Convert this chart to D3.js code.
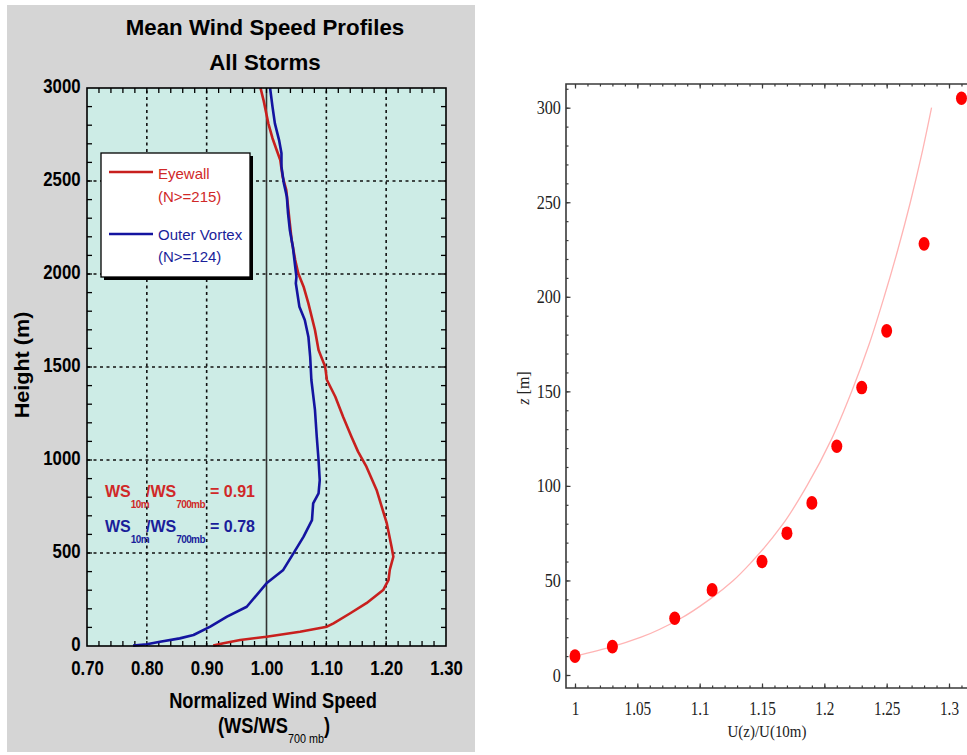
<!DOCTYPE html>
<html>
<head>
<meta charset="utf-8">
<script src="https://cdn.jsdelivr.net/npm/d3@7"></script>
<style>
  body { margin: 0; background: #fff; }
  svg { display: block; }
</style>
</head>
<body>
<div id="chart"></div>
<script>
// Size of the whole picture.
var width = 967;
var height = 755;

// ---- Left panel data: mean wind speed profiles (height in m, normalized speed) ----
var eyewallHeight = [3000, 2935, 2810, 2730, 2657, 2613, 2523, 2452, 2362, 2272, 2183, 2075, 2004, 1932,
  1842, 1699, 1591, 1502, 1430, 1340, 1233, 1125, 1045, 964, 839, 660, 534, 480, 409, 355, 301, 230,
  176, 122, 104, 77, 50, 32, 15, 2];
var eyewallSpeed = [0.990, 0.995, 1.003, 1.010, 1.018, 1.023, 1.027, 1.033, 1.036, 1.039, 1.042, 1.048,
  1.053, 1.062, 1.070, 1.081, 1.087, 1.098, 1.101, 1.115, 1.128, 1.142, 1.153, 1.167, 1.184, 1.201, 1.209,
  1.212, 1.206, 1.204, 1.195, 1.167, 1.140, 1.112, 1.101, 1.056, 1.000, 0.956, 0.928, 0.911];

var vortexHeight = [3000, 2900, 2810, 2720, 2649, 2577, 2488, 2416, 2326, 2237, 2147, 2039, 1985, 1950,
  1824, 1753, 1663, 1555, 1430, 1269, 1125, 1000, 892, 821, 767, 677, 588, 498, 409, 337, 211, 158,
  104, 59, 41, 23, 9, 2];
var vortexSpeed = [1.006, 1.010, 1.014, 1.021, 1.025, 1.025, 1.029, 1.034, 1.036, 1.039, 1.044, 1.048,
  1.050, 1.049, 1.055, 1.064, 1.070, 1.073, 1.075, 1.081, 1.084, 1.087, 1.089, 1.087, 1.078, 1.076, 1.062,
  1.045, 1.028, 1.000, 0.967, 0.934, 0.906, 0.878, 0.855, 0.822, 0.800, 0.777];

var leftXTicks = [0.70, 0.80, 0.90, 1.00, 1.10, 1.20, 1.30];
var leftYTicks = [0, 500, 1000, 1500, 2000, 2500, 3000];
var leftXGrid = [0.80, 0.90, 1.10, 1.20];
var leftYGrid = [500, 1000, 1500, 2000, 2500];

// ---- Right panel data: measured ratio U(z)/U(10m) and fitted profile ----
var pointRatio = [1.00, 1.03, 1.08, 1.11, 1.15, 1.17, 1.19, 1.21, 1.23, 1.25, 1.28, 1.31];
var pointHeight = [10, 15, 30, 45, 60, 75, 91, 121, 152, 182, 228, 305];

var fitHeight = [10, 15, 20, 30, 40, 50, 60, 80, 100, 125, 150, 175, 200, 225, 250, 275, 300];
var fitRatio = [1.000, 1.030, 1.053, 1.085, 1.108, 1.127, 1.142, 1.167, 1.186, 1.206, 1.222, 1.236,
  1.248, 1.259, 1.269, 1.278, 1.286];

var rightXTicks = [1, 1.05, 1.1, 1.15, 1.2, 1.25, 1.3];
var rightYTicks = [0, 50, 100, 150, 200, 250, 300];

var colors = {
  eyewall: "#c8201e",
  vortex: "#1414a0",
  eyewallText: "#d02828",
  vortexText: "#1a1e9a",
  plotBg: "#cdece6",
  panelBg: "#d5d5d5",
  fit: "#ffb4b4",
  dot: "#ff0000"
};

var svg = d3.select("#chart").append("svg")
    .attr("width", width)
    .attr("height", height);

var sans = "Liberation Sans, Arial, Helvetica, sans-serif";
var serif = "Liberation Serif, Times New Roman, Times, serif";

// Place a (possibly condensed) text at x,y.
function label(g, x, y, str, o) {
  o = o || {};
  return g.append("text")
      .attr("transform", "translate(" + x + "," + y + ")" + (o.rotate ? " rotate(" + o.rotate + ")" : "") +
            " scale(" + (o.sx || 1) + ",1)")
      .attr("text-anchor", o.anchor || "start")
      .attr("font-family", o.family || sans)
      .attr("font-size", o.size || 16)
      .attr("font-weight", o.weight || "normal")
      .attr("fill", o.color || "#000")
      .text(str);
}

//------- LEFT PANEL --------//
var left = svg.append("g");

left.append("rect")
    .attr("x", 7).attr("y", 5)
    .attr("width", 468).attr("height", 747)
    .attr("fill", colors.panelBg);

var xL = d3.scaleLinear().domain([0.7, 1.3]).range([87, 446]);
var yL = d3.scaleLinear().domain([0, 3000]).range([646, 88]);

left.append("rect")
    .attr("x", xL(0.7)).attr("y", yL(3000))
    .attr("width", xL(1.3) - xL(0.7)).attr("height", yL(0) - yL(3000))
    .attr("fill", colors.plotBg);

// dotted grid
left.selectAll(".vgrid").data(leftXGrid).enter().append("line")
    .attr("x1", xL).attr("x2", xL)
    .attr("y1", yL(0)).attr("y2", yL(3000))
    .attr("stroke", "#111").attr("stroke-width", 1.6)
    .attr("stroke-dasharray", "3,3.5");
left.selectAll(".hgrid").data(leftYGrid).enter().append("line")
    .attr("x1", xL(0.7)).attr("x2", xL(1.3))
    .attr("y1", yL).attr("y2", yL)
    .attr("stroke", "#111").attr("stroke-width", 1.6)
    .attr("stroke-dasharray", "3,3.5");

// solid reference line at 1.00
left.append("line")
    .attr("x1", xL(1)).attr("x2", xL(1))
    .attr("y1", yL(0)).attr("y2", yL(3000))
    .attr("stroke", "#333").attr("stroke-width", 1.6);

// minor ticks on all four sides
var minorX = d3.range(0.72, 1.29, 0.02);
var minorY = d3.range(100, 2950, 100);
left.selectAll(".tb").data(minorX).enter().append("line")
    .attr("x1", xL).attr("x2", xL)
    .attr("y1", yL(0)).attr("y2", yL(0) - 5)
    .attr("stroke", "#000").attr("stroke-width", 1.3);
left.selectAll(".tt").data(minorX).enter().append("line")
    .attr("x1", xL).attr("x2", xL)
    .attr("y1", yL(3000)).attr("y2", yL(3000) + 5)
    .attr("stroke", "#000").attr("stroke-width", 1.3);
left.selectAll(".tl").data(minorY).enter().append("line")
    .attr("x1", xL(0.7)).attr("x2", xL(0.7) + 5)
    .attr("y1", yL).attr("y2", yL)
    .attr("stroke", "#000").attr("stroke-width", 1.3);
left.selectAll(".tr").data(minorY).enter().append("line")
    .attr("x1", xL(1.3)).attr("x2", xL(1.3) - 5)
    .attr("y1", yL).attr("y2", yL)
    .attr("stroke", "#000").attr("stroke-width", 1.3);

// profiles
var lineL = d3.line()
    .x(function(d) { return xL(d[0]); })
    .y(function(d) { return yL(d[1]); });

left.append("path")
    .datum(d3.zip(eyewallSpeed, eyewallHeight))
    .attr("d", lineL)
    .attr("fill", "none")
    .attr("stroke", colors.eyewall)
    .attr("stroke-width", 2.6)
    .attr("stroke-linejoin", "round");

left.append("path")
    .datum(d3.zip(vortexSpeed, vortexHeight))
    .attr("d", lineL)
    .attr("fill", "none")
    .attr("stroke", colors.vortex)
    .attr("stroke-width", 2.6)
    .attr("stroke-linejoin", "round");

// frame
left.append("rect")
    .attr("x", xL(0.7)).attr("y", yL(3000))
    .attr("width", xL(1.3) - xL(0.7)).attr("height", yL(0) - yL(3000))
    .attr("fill", "none")
    .attr("stroke", "#000").attr("stroke-width", 1.6);

// tick labels
left.append("g")
    .attr("transform", "translate(0," + yL(0) + ")")
    .call(d3.axisBottom(xL).tickValues(leftXTicks).tickFormat(d3.format(".2f"))
      .tickSize(0).tickPadding(14))
    .call(function(g) { g.select(".domain").remove(); })
    .selectAll("text")
    .attr("font-family", sans).attr("font-size", 21).attr("font-weight", "bold")
    .attr("fill", "#000")
    .attr("transform", "scale(0.8,1)");

left.append("g")
    .attr("transform", "translate(" + xL(0.7) + ",0)")
    .call(d3.axisLeft(yL).tickValues(leftYTicks).tickFormat(d3.format("d")).tickSize(0).tickPadding(8))
    .call(function(g) { g.select(".domain").remove(); })
    .selectAll("text")
    .attr("font-family", sans).attr("font-size", 21).attr("font-weight", "bold")
    .attr("fill", "#000")
    .attr("dy", "0.22em")
    .attr("transform", "scale(0.8,1)");

// titles
label(left, 265, 35, "Mean Wind Speed Profiles", { anchor: "middle", size: 23, weight: "bold", sx: 0.97 });
label(left, 265, 70, "All Storms", { anchor: "middle", size: 23, weight: "bold", sx: 0.97 });
label(left, 29, 365, "Height (m)", { anchor: "middle", size: 20, weight: "bold", rotate: -90, sx: 1.08 });
label(left, 273, 708, "Normalized Wind Speed", { anchor: "middle", size: 22, weight: "bold", sx: 0.83 });

var xt = left.append("text")
    .attr("transform", "translate(218,733) scale(0.83,1)")
    .attr("font-family", sans).attr("font-size", 22).attr("font-weight", "bold")
    .attr("fill", "#000");
xt.append("tspan").text("(WS/WS");
xt.append("tspan").attr("dy", 10).attr("font-size", 13).attr("font-weight", "normal").text("700 mb");
xt.append("tspan").attr("dy", -10).text(")");

// legend
var legend = left.append("g");
legend.append("rect")
    .attr("x", 104).attr("y", 156).attr("width", 149).attr("height", 124)
    .attr("fill", "#000");
legend.append("rect")
    .attr("x", 101).attr("y", 153).attr("width", 149).attr("height", 124)
    .attr("fill", "#fff").attr("stroke", "#000").attr("stroke-width", 1.3);

legend.append("line")
    .attr("x1", 109).attr("x2", 153).attr("y1", 172).attr("y2", 172)
    .attr("stroke", colors.eyewall).attr("stroke-width", 2.6);
label(legend, 158, 179, "Eyewall", { size: 15, color: colors.eyewallText });
label(legend, 158, 202, "(N>=215)", { size: 15, color: colors.eyewallText });

legend.append("line")
    .attr("x1", 109).attr("x2", 153).attr("y1", 234).attr("y2", 234)
    .attr("stroke", colors.vortex).attr("stroke-width", 2.6);
label(legend, 158, 240, "Outer Vortex", { size: 15, color: colors.vortexText });
label(legend, 158, 262, "(N>=124)", { size: 15, color: colors.vortexText });

// ratio annotations
function ratioText(y, value, color) {
  var t = left.append("text")
      .attr("x", 105).attr("y", y)
      .attr("font-family", sans).attr("font-size", 16).attr("font-weight", "bold")
      .attr("fill", color);
  t.append("tspan").text("WS");
  t.append("tspan").attr("dy", 11).attr("font-size", 10).attr("letter-spacing", -0.6).text("10m");
  t.append("tspan").attr("dy", -11).attr("x", 146).text("/WS");
  t.append("tspan").attr("dy", 11).attr("font-size", 10).attr("letter-spacing", -0.6).text("700mb");
  t.append("tspan").attr("dy", -11).attr("x", 210).text("= " + value);
}
ratioText(497, "0.91", colors.eyewallText);
ratioText(532, "0.78", colors.vortexText);

//------- RIGHT PANEL --------//
var right = svg.append("g");

var xR = d3.scaleLinear().domain([1, 1.3]).range([575, 949]);
var yR = d3.scaleLinear().domain([0, 300]).range([675, 107.7]);

var frameLeft = 566, frameBottom = 688, frameTop = 84, frameRight = 995;
var axisColor = "#3a3a3a";

// fitted profile
right.append("path")
    .datum(d3.zip(fitRatio, fitHeight))
    .attr("d", d3.line()
      .x(function(d) { return xR(d[0]); })
      .y(function(d) { return yR(d[1]); })
      .curve(d3.curveMonotoneY))
    .attr("fill", "none")
    .attr("stroke", colors.fit)
    .attr("stroke-width", 1.3);

// measured points
right.selectAll(".dot")
    .data(d3.zip(pointRatio, pointHeight))
    .enter().append("ellipse")
    .attr("cx", function(d) { return xR(d[0]); })
    .attr("cy", function(d) { return yR(d[1]); })
    .attr("rx", 5.5).attr("ry", 6.8)
    .attr("fill", colors.dot);

// ticks
var minorXR = d3.range(1, 1.33, 0.01);
var minorYR = d3.range(0, 311, 10);

function styleAxis(g) {
  g.select(".domain").remove();
  g.selectAll("line").attr("stroke", axisColor).attr("stroke-width", 1.2);
}

// bottom
right.append("g")
    .attr("transform", "translate(0," + frameBottom + ")")
    .call(d3.axisBottom(xR).tickValues(minorXR).tickFormat("").tickSize(-2.5))
    .call(styleAxis);
right.append("g")
    .attr("transform", "translate(0," + frameBottom + ")")
    .call(d3.axisBottom(xR).tickValues(rightXTicks).tickFormat(d3.format("~g"))
      .tickSize(-4.5).tickPadding(14))
    .call(styleAxis)
    .selectAll("text")
    .attr("font-family", serif).attr("font-size", 19).attr("fill", "#222")
    .attr("transform", "scale(0.8,1)");

// top
right.append("g")
    .attr("transform", "translate(0," + frameTop + ")")
    .call(d3.axisTop(xR).tickValues(minorXR).tickFormat("").tickSize(-2.5))
    .call(styleAxis);
right.append("g")
    .attr("transform", "translate(0," + frameTop + ")")
    .call(d3.axisTop(xR).tickValues(rightXTicks).tickFormat("").tickSize(-4.5))
    .call(styleAxis);

// left
right.append("g")
    .attr("transform", "translate(" + frameLeft + ",0)")
    .call(d3.axisLeft(yR).tickValues(minorYR).tickFormat("").tickSize(-2.5))
    .call(styleAxis);
right.append("g")
    .attr("transform", "translate(" + frameLeft + ",0)")
    .call(d3.axisLeft(yR).tickValues(rightYTicks).tickSize(-4.5).tickPadding(6))
    .call(styleAxis)
    .selectAll("text")
    .attr("font-family", serif).attr("font-size", 19).attr("fill", "#222")
    .attr("transform", "scale(0.85,1)");

// frame lines
right.append("path")
    .attr("d", "M" + frameRight + "," + frameTop + "H" + frameLeft + "V" + frameBottom + "H" + frameRight)
    .attr("fill", "none")
    .attr("stroke", axisColor).attr("stroke-width", 1.6);

// axis titles
label(right, 767, 737, "U(z)/U(10m)", { anchor: "middle", family: serif, size: 17, sx: 0.88, color: "#222" });

var zl = right.append("text")
    .attr("transform", "translate(529,388) rotate(-90)")
    .attr("text-anchor", "middle")
    .attr("font-family", serif).attr("font-size", 16)
    .attr("fill", "#222");
zl.append("tspan").attr("font-style", "italic").text("z");
zl.append("tspan").text(" [m]");
</script>
</body>
</html>
